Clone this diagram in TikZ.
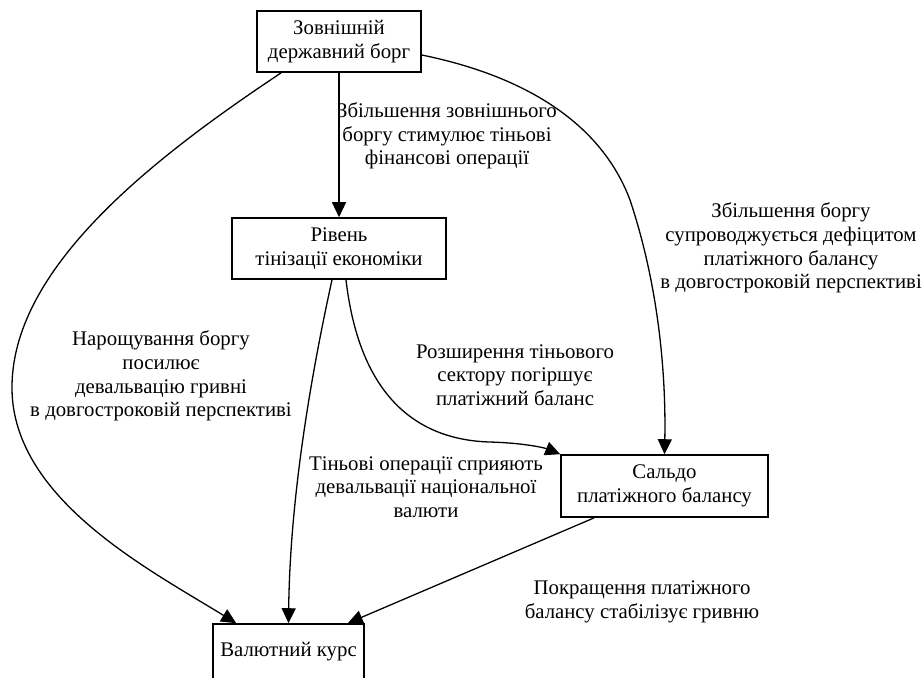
\documentclass[tikz,border=0pt]{standalone}
\usepackage{fontspec}
\setmainfont{Liberation Serif}
\usetikzlibrary{arrows.meta,calc}

\begin{document}
\begin{tikzpicture}[x=0.5pt,y=-0.5pt, font=\fontsize{10.4}{11.8}\selectfont,
    factor/.style={draw, line width=0.8pt, align=center, inner sep=0pt},
    link/.style={line width=0.65pt, -{Triangle[length=7.5pt,width=7pt]}},
    note/.style={align=center, inner sep=0pt}]
\useasboundingbox (0,0) rectangle (924,677);
\clip (0,0) rectangle (924,677);
\node[factor, minimum width=82pt, minimum height=30.5pt] (debt) at (339,41.5) {Зовнішній\\державний борг};
\node[factor, minimum width=107pt, minimum height=30.5pt] (shadow) at (339,248.5) {Рівень\\тінізації економіки};
\node[factor, minimum width=103.5pt, minimum height=31pt] (balance) at (664.5,486) {Сальдо\\платіжного балансу};
\node[factor, minimum width=75.5pt, minimum height=28pt] (rate) at (288.5,652) {Валютний курс};

\node[note] (lblA) at (447,136) {Збільшення зовнішнього\\боргу стимулює тіньові\\фінансові операції};
\node[note] (lblB) at (791,248) {Збільшення боргу\\супроводжується дефіцитом\\платіжного балансу\\в довгостроковій перспективі};
\node[note] (lblC) at (161,376) {Нарощування боргу\\посилює\\девальвацію гривні\\в довгостроковій перспективі};
\node[note] (lblD) at (515,375) {Розширення тіньового\\сектору погіршує\\платіжний баланс};
\node[note] (lblE) at (426,487) {Тіньові операції сприяють\\девальвації національної\\валюти};
\node[note] (lblF) at (642,602) {Покращення платіжного\\балансу стабілізує гривню};

\draw[link] (debt) -- (shadow);
\draw[link] ($(debt.east)+(0,13.5)$) .. controls (520,75) and (600,120) .. (630,200)
  .. controls (660,290) and (666,380) .. (balance.north);
\draw[link] ($(debt.south west)+(25,0)$) .. controls (150,160) and (10,270) .. (12,390)
  .. controls (14,500) and (150,570) .. ($(rate.north west)+(24,0)$);
\draw[link] ($(shadow.south)+(-7,0)$) .. controls (310,380) and (290,500) .. (rate.north);
\draw[link] ($(shadow.south)+(7,0)$) .. controls (360,400) and (420,440) .. (490,442)
  .. controls (525,443) and (545,448) .. (balance.north west);
\draw[link] ($(balance.south west)+(34,0)$) -- ($(rate.north east)+(-17,0)$);
\end{tikzpicture}
\end{document}
